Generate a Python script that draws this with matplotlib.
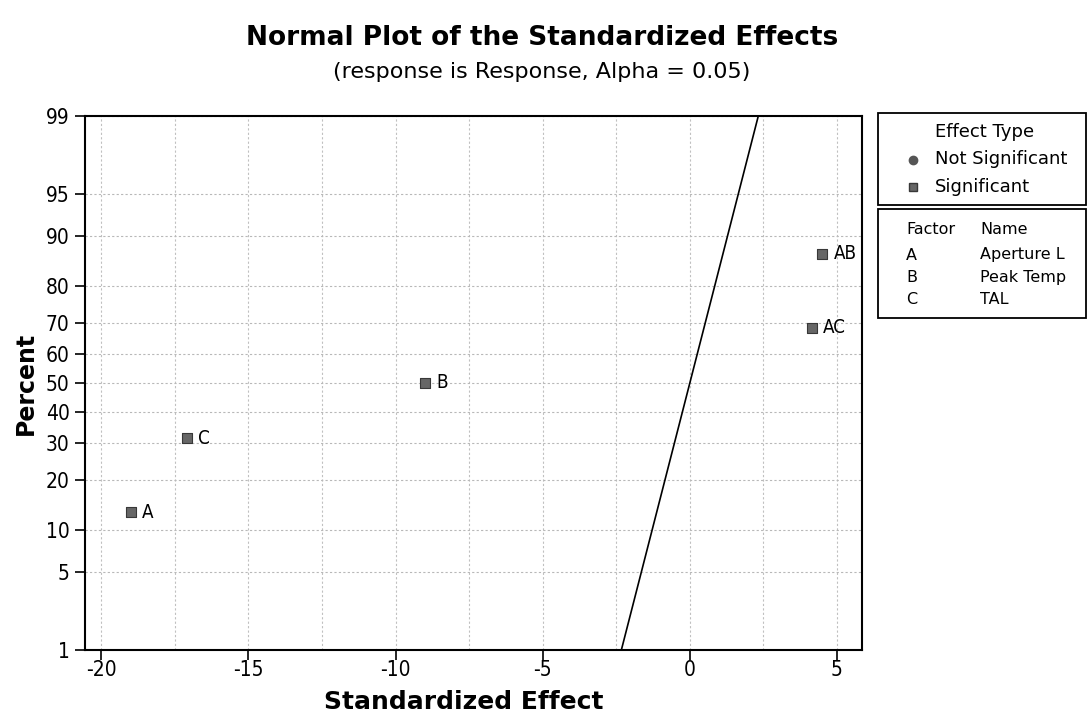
import math
from statistics import NormalDist
import numpy as np
import matplotlib
matplotlib.use("Agg")
import matplotlib.pyplot as plt
from matplotlib.patches import Rectangle

plt.rcParams["axes.unicode_minus"] = False

# data
terms = ["A", "C", "B", "AC", "AB"]
effects = [-19.0, -17.1, -9.0, 4.15, 4.5]
percents = [12.96, 31.48, 50.0, 68.52, 87.04]
percent_ticks = [1, 5, 10, 20, 30, 40, 50, 60, 70, 80, 90, 95, 99]
x_ticks = [-20, -15, -10, -5, 0, 5]
line_pcts = [1, 99]
factors = ["A", "B", "C"]
factor_names = ["Aperture L", "Peak Temp", "TAL"]

nd = NormalDist()
COND = dict(family="DejaVu Sans", stretch="condensed")
NORM = dict(family="DejaVu Sans")


def fwd(p):
    p = np.clip(np.asarray(p, float) / 100.0, 1e-9, 1 - 1e-9)
    return np.vectorize(nd.inv_cdf, otypes=[float])(p)


def inv(z):
    z = np.asarray(z, float)
    return 50.0 * (1 + np.vectorize(math.erf, otypes=[float])(z / math.sqrt(2)))


fig = plt.figure(figsize=(10.88, 7.24), dpi=100)
ax = fig.add_axes([85 / 1088, 1 - 650 / 724, 777 / 1088, 534 / 724])
ax.set_yscale("function", functions=(fwd, inv))

# reference line (mean 0, sd 1)
line_x = [nd.inv_cdf(p / 100) for p in line_pcts]
ax.plot(line_x, line_pcts, color="black", lw=1.2, zorder=3)

ax.scatter(effects, percents, marker="s", s=60, color="#666666",
           edgecolor="#383838", linewidth=0.8, zorder=4)
for x, y, t in zip(effects, percents, terms):
    ax.annotate(t, (x, y), xytext=(8, 0), textcoords="offset points",
                va="center", ha="left", fontsize=13.5, **COND)

ax.set_xlim(-20.55, 5.85)
ax.set_ylim(1, 99)
ax.set_yticks(percent_ticks)
ax.set_yticklabels([str(p) for p in percent_ticks])
ax.set_yticks([], minor=True)
ax.set_xticks(x_ticks)
ax.set_xticks(np.arange(-20, 6, 2.5), minor=True)
ax.tick_params(axis="both", which="major", direction="out", length=7,
               width=1.2, labelsize=15)
ax.tick_params(axis="x", which="major", pad=0)
ax.tick_params(axis="y", which="major", pad=4)
ax.tick_params(axis="x", which="minor", length=0)
for lbl in ax.get_xticklabels() + ax.get_yticklabels():
    lbl.set_fontstretch("condensed")

ax.grid(True, axis="y", which="major", color="#b8b8b8", ls=(0, (2, 2)), lw=0.8)
ax.grid(True, axis="x", which="both", color="#c0c0c0", ls=(0, (2, 2)), lw=0.8)
for s in ax.spines.values():
    s.set_linewidth(1.5)

ax.set_xlabel("Standardized Effect", fontsize=18, fontweight="bold", labelpad=9, **NORM)
ax.xaxis.set_label_coords(0.487, -0.075)
ax.set_ylabel("Percent", fontsize=17, fontweight="bold", labelpad=6, **NORM)

fig.text(542 / 1088, 1 - 38 / 724, "Normal Plot of the Standardized Effects",
         ha="center", va="center", fontsize=19, fontweight="bold", **NORM)
fig.text(542 / 1088, 1 - 72 / 724, "(response is Response, Alpha = 0.05)",
         ha="center", va="center", fontsize=16, **NORM)


# legend boxes
def fx(px):
    return px / 1088


def fy(py):
    return 1 - py / 724


fig.patches.append(Rectangle((fx(878), fy(205)), fx(1086) - fx(878), fy(113) - fy(205),
                             transform=fig.transFigure, fill=False, lw=1.3, ec="black"))
fig.patches.append(Rectangle((fx(878), fy(318)), fx(1086) - fx(878), fy(209) - fy(318),
                             transform=fig.transFigure, fill=False, lw=1.3, ec="black"))
fig.text(fx(935), fy(132), "Effect Type", va="center", fontsize=13, **NORM)
fig.text(fx(935), fy(159), "Not Significant", va="center", fontsize=13, **NORM)
fig.text(fx(935), fy(187), "Significant", va="center", fontsize=13, **NORM)
fig.lines.append(plt.Line2D([fx(913)], [fy(160)], marker="o", ms=6, color="#555555",
                            transform=fig.transFigure))
fig.lines.append(plt.Line2D([fx(913)], [fy(187)], marker="s", ms=6, color="#666666",
                            mec="#383838", transform=fig.transFigure))
fig.text(fx(906), fy(229), "Factor", va="center", fontsize=11.5, **NORM)
fig.text(fx(980), fy(229), "Name", va="center", fontsize=11.5, **NORM)
for i, (f, n) in enumerate(zip(factors, factor_names)):
    yy = fy(255 + 22.5 * i)
    fig.text(fx(906), yy, f, va="center", fontsize=11.5, **NORM)
    fig.text(fx(980), yy, n, va="center", fontsize=11.5, **NORM)

fig.savefig("out.png", dpi=100)
